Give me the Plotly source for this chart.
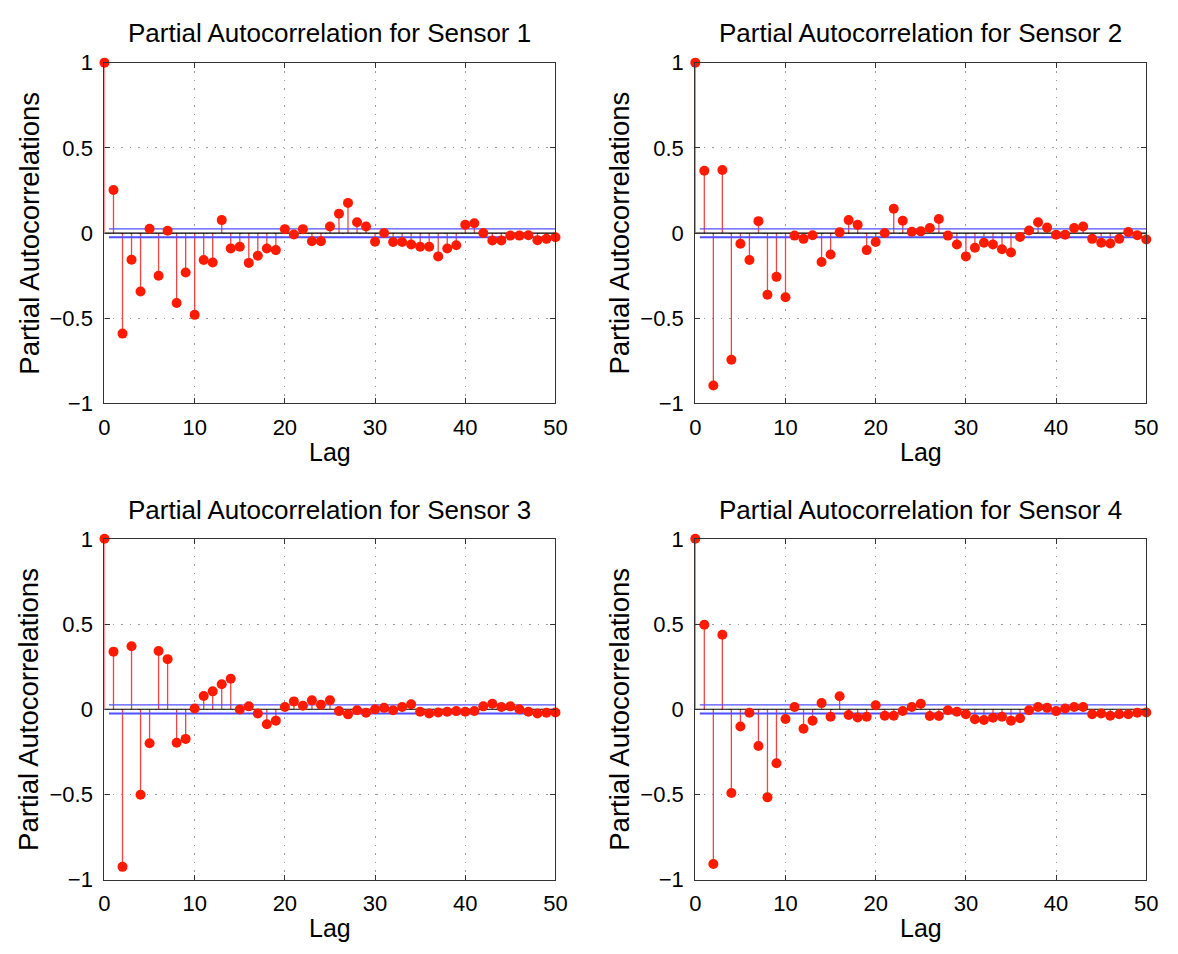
import plotly.graph_objects as go

lags = list(range(0, 51))

sensor1 = [1.0, 0.253, -0.59, -0.156, -0.343, 0.025, -0.251, 0.013, -0.41, -0.232,
           -0.48, -0.158, -0.173, 0.076, -0.09, -0.08, -0.175, -0.133, -0.091, -0.10,
           0.023, -0.008, 0.023, -0.048, -0.048, 0.038, 0.114, 0.177, 0.063, 0.038,
           -0.051, 0.0, -0.053, -0.053, -0.067, -0.08, -0.08, -0.137, -0.091, -0.072,
           0.048, 0.057, 0.0, -0.044, -0.044, -0.015, -0.015, -0.013, -0.042, -0.034,
           -0.025]
sensor2 = [1.0, 0.366, -0.895, 0.37, -0.743, -0.063, -0.158, 0.07, -0.362, -0.257,
           -0.377, -0.015, -0.034, -0.013, -0.17, -0.126, 0.004, 0.076, 0.048, -0.10,
           -0.053, 0.0, 0.143, 0.072, 0.008, 0.01, 0.029, 0.082, -0.015, -0.067,
           -0.137, -0.086, -0.057, -0.067, -0.095, -0.114, -0.023, 0.015, 0.063, 0.032,
           -0.01, -0.01, 0.029, 0.038, -0.034, -0.057, -0.061, -0.034, 0.006, -0.013,
           -0.038]
sensor3 = [1.0, 0.338, -0.925, 0.37, -0.502, -0.2, 0.342, 0.294, -0.197, -0.174,
           0.004, 0.078, 0.105, 0.147, 0.179, -0.002, 0.017, -0.025, -0.088, -0.067,
           0.013, 0.046, 0.021, 0.052, 0.027, 0.052, -0.011, -0.03, -0.006, -0.021,
           0.0, 0.008, -0.006, 0.013, 0.029, -0.015, -0.025, -0.019, -0.015, -0.011,
           -0.015, -0.01, 0.017, 0.032, 0.013, 0.017, 0.0, -0.015, -0.025, -0.021,
           -0.019]
sensor4 = [1.0, 0.496, -0.908, 0.437, -0.492, -0.101, -0.021, -0.216, -0.517, -0.317,
           -0.057, 0.013, -0.115, -0.067, 0.036, -0.044, 0.076, -0.034, -0.048, -0.044,
           0.023, -0.038, -0.038, -0.01, 0.013, 0.032, -0.04, -0.04, -0.006, -0.015,
           -0.029, -0.059, -0.063, -0.05, -0.044, -0.067, -0.053, -0.006, 0.013, 0.008,
           -0.011, 0.004, 0.013, 0.013, -0.029, -0.025, -0.038, -0.029, -0.029, -0.021,
           -0.019]

conf_bound = 0.025
titles = ["Partial Autocorrelation for Sensor 1", "Partial Autocorrelation for Sensor 2",
          "Partial Autocorrelation for Sensor 3", "Partial Autocorrelation for Sensor 4"]
series = [sensor1, sensor2, sensor3, sensor4]

W, H = 1178, 954
# plot areas in pixels: (left, right, top, bottom)
areas = [(100, 558, 52, 402), (700, 1158, 52, 402),
         (100, 558, 541, 891), (700, 1158, 541, 891)]

FONT = "Liberation Sans, Arial, Helvetica, sans-serif"
fig = go.Figure()
annotations = []

for i, (vals, title, (l, r, t, b)) in enumerate(zip(series, titles, areas)):
    n = i + 1
    xa = "x" if n == 1 else f"x{n}"
    ya = "y" if n == 1 else f"y{n}"
    # stems
    sx, sy = [], []
    for lag, v in zip(lags, vals):
        sx += [lag, lag, None]
        sy += [0, v, None]
    fig.add_trace(go.Scatter(x=sx, y=sy, mode="lines", xaxis=xa, yaxis=ya,
                             line=dict(color="#f04545", width=1.3),
                             hoverinfo="skip", showlegend=False, cliponaxis=False))
    # zero line
    fig.add_trace(go.Scatter(x=[0, 50], y=[0, 0], mode="lines", xaxis=xa, yaxis=ya,
                             line=dict(color="black", width=1.2), showlegend=False,
                             hoverinfo="skip"))
    # confidence bounds
    for cb, w in ((conf_bound, 1.2), (-conf_bound, 2.0)):
        fig.add_trace(go.Scatter(x=[0.5, 50], y=[cb, cb], mode="lines", xaxis=xa, yaxis=ya,
                                 line=dict(color="#5050ff", width=w), showlegend=False,
                                 hoverinfo="skip"))
    # markers
    fig.add_trace(go.Scatter(x=lags, y=vals, mode="markers", xaxis=xa, yaxis=ya,
                             marker=dict(color="#ff1a00", size=10, line=dict(width=0)),
                             showlegend=False, cliponaxis=False))

    xdom = [l / W, r / W]
    ydom = [1 - b / H, 1 - t / H]
    axcommon = dict(showline=True, linecolor="#333333", linewidth=1.3, mirror="allticks",
                    ticks="inside", ticklen=5, tickcolor="#333333", tickwidth=1,
                    showgrid=True, gridcolor="#9a9a9a", griddash="1.5px,7px", gridwidth=1,
                    zeroline=False, tickfont=dict(family=FONT, size=22, color="black"),
                    fixedrange=True)
    fig.update_layout(**{
        ("xaxis" if n == 1 else f"xaxis{n}"): dict(
            domain=xdom, range=[0, 50], tickvals=[0, 10, 20, 30, 40, 50],
            anchor=ya, ticklabelstandoff=4, **axcommon),
        ("yaxis" if n == 1 else f"yaxis{n}"): dict(
            domain=ydom, range=[-1, 1], tickvals=[-1, -0.5, 0, 0.5, 1],
            ticktext=["\u22121", "\u22120.5", "0", "0.5", "1"],
            anchor=xa, ticklabelstandoff=6, **axcommon),
    })
    cx = (l + r) / 2
    # title
    annotations.append(dict(text=title, x=cx / W, y=1 - (t - 30) / H, xref="paper", yref="paper",
                            xanchor="center", yanchor="middle", showarrow=False,
                            font=dict(family=FONT, size=26, color="black")))
    # x label
    annotations.append(dict(text="Lag", x=cx / W, y=1 - (b + 50) / H, xref="paper", yref="paper",
                            xanchor="center", yanchor="middle", showarrow=False,
                            font=dict(family=FONT, size=25, color="black")))
    # y label
    annotations.append(dict(text="Partial Autocorrelations", x=(l - 77) / W, y=1 - ((t + b) / 2) / H,
                            xref="paper", yref="paper", xanchor="center", yanchor="middle",
                            textangle=-90, showarrow=False,
                            font=dict(family=FONT, size=27.5, color="black")))

fig.update_layout(width=W, height=H, margin=dict(l=0, r=0, t=0, b=0),
                  paper_bgcolor="white", plot_bgcolor="white",
                  annotations=annotations, showlegend=False)

fig.write_html("out.html")
